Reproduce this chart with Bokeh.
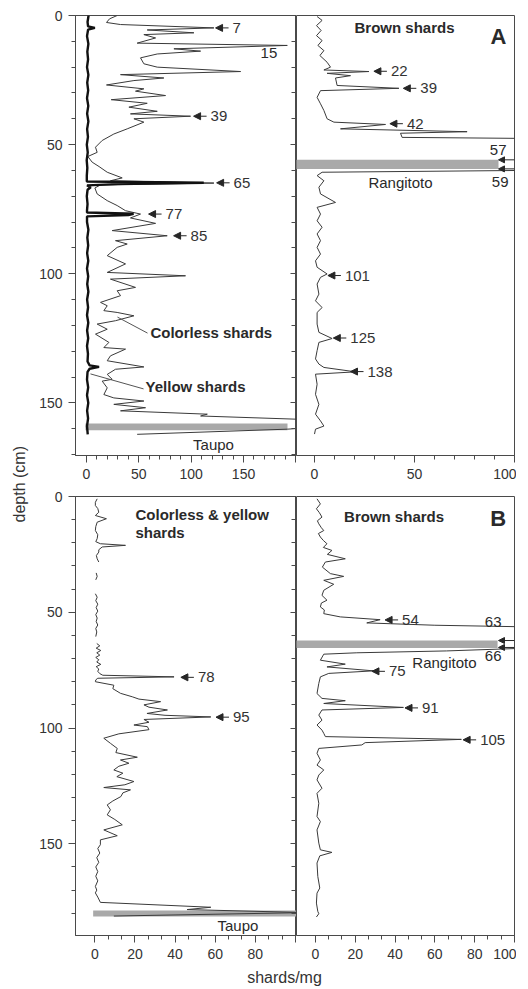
import math
from bokeh.plotting import figure
from bokeh.layouts import row, column
from bokeh.models import Range1d, FixedTicker, LinearAxis, Arrow, NormalHead, ColumnDataSource
from bokeh.core.properties import value
from bokeh.embed import file_html
from bokeh.resources import INLINE

NaN = float("nan")
FONT = "Liberation Sans"
INK = "#262626"
AXC = "#4a4a4a"
BAR = "#a9a9a9"

# ---------------- Panel A : colorless shards (shards/mg vs depth cm) ----------------
a_colorless_depth = [0.0, 1.3, 2.7, 3.5, 4.8, 5.6, 6.7, 7.4, 8.7, 10.7, 11.6, 12.9, 13.8, 14.9, 16.4,
                     18.7, 20.0, 21.7, 22.9, 24.2, 25.2, 26.9, 28.4, 29.3, 31.0, 32.6, 34.0, 35.5, 37.1,
                     38.1, 39.0, 40.0, 41.3, 43.9, 45.9, 48.4, 51.0, 53.0, 54.6, 56.8, 58.5, 60.7, 62.9,
                     64.0, 64.9, 65.6, 66.8, 69.1, 71.7, 73.6, 75.6, 76.9, 78.4, 80.5, 83.3, 85.3, 87.2,
                     88.5, 89.8, 93.0, 96.2, 99.5, 100.8, 102.1, 105.3, 106.6, 108.5, 111.1, 112.4, 114.3,
                     115.0, 116.3, 118.2, 119.5, 121.5, 123.4, 126.6, 128.6, 129.2, 131.8, 133.7, 136.1,
                     137.0, 139.0, 140.9, 141.6, 144.2, 146.8, 148.1, 149.3, 150.6, 151.9, 153.1, 154.4,
                     155.1, 156.4, 158.3, 160.2, 162.2]
a_colorless = [29.3, 22.0, 19.1, 32.5, 121.7, 58.0, 102.6, 54.8, 66.0, 48.4, 191.8, 83.5, 109.0, 67.6, 51.6,
               54.8, 67.6, 147.2, 32.5, 73.9, 45.3, 19.1, 54.8, 46.8, 75.5, 23.6, 58.0, 40.5, 67.6,
               42.0, 99.4, 45.3, 54.8, 38.9, 26.1, 15.0, 8.6, 10.2, 1.3, 5.4, 12.0, 19.8, 34.1,
               22.9, 121.7, 13.4, 8.0, 10.2, 19.8, 29.3, 37.3, 51.6, 42.0, 66.0, 24.5, 77.1, 27.7,
               38.9, 29.3, 19.8, 37.3, 19.8, 94.6, 22.9, 46.8, 29.3, 32.5, 13.4, 19.8, 16.6,
               29.3, 45.3, 27.7, 10.2, 19.8, 8.6, 21.4, 16.6, 37.3, 22.9, 19.8, 54.8,
               27.7, 19.8, 24.5, 15.0, 19.8, 16.6, 26.1, 54.8, 26.1, 56.4, 32.5, 115.4,
               109.0, 205.0, 260.0, 192.0, 48.4]

# ---------------- Panel A : yellow shards ----------------
a_yellow_depth = [0, 2.5, 4.2, 4.8, 5.5, 8, 11, 14, 17, 20, 23, 26, 29, 32, 35, 38, 41, 44, 47, 50, 53,
                  56, 59, 62, 64.3, 64.8, 65.3, 65.8, 66.5, 67.5, 70, 73, 75.5, 76.3, 76.8, 77.3, 77.8,
                  80, 83, 86, 89, 92, 95, 98, 101, 104, 107, 110, 113, 116, 119, 122, 125, 128, 131,
                  134, 135.5, 136.1, 136.8, 138, 141, 144, 147, 150, 153, 156, 159, 162.2]
a_yellow = [2.0, 1.0, 1.5, 8.0, 1.5, 0.5, 1.8, 0.8, 1.5, 0.5, 1.8, 0.7, 1.6, 0.5, 1.7, 0.6, 1.8, 0.6,
            1.4, 0.3, 1.2, 0.2, 0.8, 0.3, 0.3, 112.0, 30.0, 0.5, 4.0, 1.0, 0.3, 1.0, 0.5, 0.5, 45.0,
            40.0, 0.5, 0.5, 1.8, 0.8, 1.6, 0.6, 1.7, 0.5, 1.6, 0.7, 1.8, 0.6, 1.5, 0.5, 1.7, 0.6,
            1.6, 0.5, 1.4, 1.0, 3.0, 12.0, 3.0, 1.0, 0.5, 1.6, 0.5, 1.7, 0.6, 1.5, 0.5, 1.2]

# ---------------- Panel A : brown shards ----------------
a_brown_depth = [0.4, 1.9, 3.9, 5.8, 7.8, 9.7, 11.6, 13.6, 15.5, 18.1, 20.0, 21.1, 21.7, 22.4, 23.3, 24.2,
                 27.1, 28.2, 29.1, 31.7, 34.2, 36.8, 40.0, 41.3, 42.2, 43.9, 45.0, 45.6, 47.2, 47.6,
                 60.0, 60.7, 62.0, 64.0, 66.5, 69.1, 72.4, 74.3, 76.9, 79.5, 82.0, 84.6, 87.2, 89.8,
                 92.4, 95.0, 97.5, 100.1, 101.4, 104.0, 107.9, 110.5, 113.1, 115.0, 119.5, 122.7, 125.1,
                 126.6, 129.8, 133.0, 135.0, 136.3, 138.0, 138.9, 142.8, 146.7, 150.6, 154.4, 157.0,
                 159.0, 160.2, 162.1]
a_brown = [1.3, 3.8, 1.0, 3.3, 1.0, 3.8, 1.7, 4.7, 2.7, 6.3, 8.0, 4.7, 27.2, 6.3, 18.0, 10.5,
           11.3, 42.2, 3.0, 1.3, 3.0, 4.7, 6.3, 9.7, 35.5, 13.0, 76.3, 43.0, 43.8, 104.0,
           104.0, 3.8, 1.3, 4.7, 2.2, 3.0, 10.5, 1.3, 3.0, 1.3, 3.8, 1.3, 3.0, 1.3,
           3.0, 0.5, 1.3, 6.3, 3.0, 1.3, 2.2, 0.5, 3.8, 1.3, 1.3, 2.2, 8.8,
           2.2, 1.3, 0.5, 2.2, 4.7, 20.5, 0.5, 1.3, 0.5, 2.2, 0.5, 3.0,
           4.7, 0.5, 0.0]

# ---------------- Panel B : colorless & yellow shards ----------------
b_cy_depth = [1.0, 2.5, 3.9, 5.2, 6.8, 8.2, 9.6, 11.1, 13.0, 14.7, 16.5, 18.2, 19.5, 20.4, 21.1, 21.8,
              23.0, 24.0, 25.5, 26.9, 28.3, NaN, 33.0, 34.5, 36.0, NaN, 42.0, 43.5, 45.0, 46.5, 48.0,
              49.5, 51.0, 52.5, 54.0, 55.5, 57.0, 58.5, 60.5, NaN, 63.5, 64.5, 65.5, 66.5, 67.5, 68.5,
              69.5, 70.5, 71.5, 72.5, 73.5, 74.5, 75.5, 76.5, 77.2, 77.9, 78.5, 79.2, 80.0, 81.5, 83.0,
              85.0, 86.5, 87.5, 88.6, 90.0, 91.0, 92.2, 93.7, 94.5, 95.2, 96.3, 97.5, 98.7, 99.4,
              100.7, 102.5, 104.4, 106.6, 108.8, 110.6, 112.6, 113.8, 115.2, 116.5, 118.1, 119.5,
              121.0, 123.1, 124.5, 125.7, 126.7, 128.0, 129.6, 131.5, 133.2, 135.3, 137.5, 139.5,
              141.8, 144.0, 146.5, 148.3, 150.4, 152.0, 154.0, 156.0, 158.0, 160.0, 162.0, 164.0,
              166.0, 168.4, 170.0, 171.2, 173.0, 175.3, 177.4, 178.4, 179.7, 181.2]
b_cy = [1.2, 0.3, 0.3, 1.5, 2.0, 0.3, 5.8, 1.2, 0.5, 0.3, 1.5, 1.2, 0.5, 2.8, 15.3, 3.7,
        2.0, 2.0, 0.8, 1.2, 2.0, NaN, 0.7, 1.2, 0.5, NaN, 0.3, 1.2, 0.5, 1.5, 0.7,
        1.5, 0.5, 1.2, 0.7, 1.5, 0.5, 1.0, 0.5, NaN, 1.0, 2.5, 0.7, 3.0, 1.0, 2.5,
        0.5, 2.0, 1.0, 3.0, 0.7, 2.0, 1.5, 2.5, 4.0, 39.5, 1.5, 0.5, 0.3, 9.5, 9.0,
        12.8, 18.7, 22.0, 32.8, 24.5, 27.0, 36.2, 26.0, 35.0, 57.8, 24.5, 27.0, 19.5, 26.2,
        27.0, 12.0, 4.5, 7.8, 11.2, 10.5, 21.2, 12.8, 17.0, 12.0, 9.5, 14.0,
        11.0, 19.5, 15.0, 4.5, 17.8, 14.0, 13.0, 9.0, 6.2, 7.8, 6.2, 10.0,
        13.7, 4.5, 11.2, 2.8, 2.8, 1.5, 2.5, 1.0, 2.0, 0.5, 1.5, 0.5,
        1.5, 0.3, 1.0, 0.3, 1.5, 2.8, 57.8, 46.0, 105.0, 9.5]

# ---------------- Panel B : brown shards ----------------
b_brown_depth = [1.0, 3.2, 5.3, 7.0, 8.9, 10.5, 11.8, 13.5, 14.7, 16.0, 17.5, 19.0, 20.4, 22.0, 23.3,
                 25.0, 26.9, 28.3, 30.5, 33.3, 34.5, 36.2, 37.9, 40.5, 42.7, 44.8, 46.0, 47.7, 49.0,
                 50.6, 52.0, 53.2, 54.6, 55.6, 56.3, 65.5, 66.7, 67.5, 68.1, 70.7, 72.4, 73.6, 75.3,
                 76.4, 77.9, 80.7, 85.1, 87.2, 88.2, 89.4, 91.1, 92.2, 94.4, 96.6, 98.7, 100.9, 102.3,
                 103.7, 104.9, 106.3, 107.3, 108.8, 110.9, 113.8, 116.0, 118.1, 120.3, 122.4, 126.0,
                 128.2, 132.5, 138.2, 140.4, 144.0, 149.7, 152.6, 153.7, 155.2, 158.3, 164.1, 169.1,
                 171.3, 175.6, 179.2, 180.2, 181.6]
b_brown = [0.8, 2.5, 0.5, 2.0, 3.3, 1.0, 1.7, 3.0, 4.2, 1.5, 2.5, 4.0, 5.8, 4.0, 8.3,
           6.0, 15.0, 5.0, 3.5, 7.5, 14.2, 4.2, 9.2, 4.2, 3.3, 5.8, 3.0, 2.5, 4.5,
           4.2, 12.5, 32.5, 25.8, 60.0, 106.0, 106.0, 65.8, 20.8, 4.2, 2.5, 15.0, 5.8, 29.2,
           6.7, 2.5, 1.7, 0.8, 3.3, 15.0, 4.2, 44.2, 3.3, 1.7, 3.3, 0.8, 3.3, 4.2,
           5.0, 73.3, 25.0, 23.3, 1.7, 0.8, 2.5, 0.8, 4.2, 1.7, 0.8, 3.3,
           0.8, 1.7, 0.8, 2.5, 0.8, 1.7, 2.5, 8.3, 2.2, 0.8, 1.2, 2.2,
           0.8, 0.5, 1.2, 1.7, 0.5]

# ---------------- tephra layers (depth top, depth bottom, value extent) ----------------
a_taupo = dict(top=[158.0], bottom=[160.6], left=[-1.0], right=[192.0])
a_rangitoto = dict(top=[55.9], bottom=[59.4], left=[-10.0], right=[92.0])
b_taupo = dict(top=[178.8], bottom=[181.4], left=[-0.8], right=[101.0])
b_rangitoto = dict(top=[62.2], bottom=[65.4], left=[-10.0], right=[91.5])

# ---------------- annotation labels ----------------
a_left_marks = ["7", "39", "65", "77", "85"]
a_left_mark_depth = [4.8, 39.0, 64.8, 76.9, 85.3]
a_left_mark_val = [123.3, 102.3, 124.3, 59.3, 83.2]
a_right_marks = ["22", "39", "42", "101", "125", "138"]
a_right_mark_depth = [21.6, 28.2, 41.9, 100.7, 124.9, 137.9]
a_right_mark_val = [29.7, 44.4, 37.7, 6.7, 9.4, 18.0]
a_layer_edges = [55.9, 59.4]
b_left_marks = ["78", "95"]
b_left_mark_depth = [78.1, 95.3]
b_left_mark_val = [42.9, 60.4]
b_right_marks = ["54", "75", "91", "105"]
b_right_mark_depth = [53.3, 75.5, 91.3, 105.1]
b_right_mark_val = [35.0, 28.4, 45.0, 74.2]
b_layer_edges = [62.2, 65.2]

# ---------------- ticks ----------------
depth_ticks = [0, 50, 100, 150]
a_depth_minor = list(range(0, 171, 10))
b_depth_minor = list(range(0, 190, 10))
a_left_xticks = [0, 50, 100, 150, 200]
a_left_xminor = list(range(0, 201, 10))
a_right_xticks = [0, 50, 100]
a_right_xminor = list(range(0, 101, 10))
b_xticks = [0, 20, 40, 60, 80, 100]
b_xminor = [i * 20.0 / 3.0 for i in range(16)]

# ---------------- ranges ----------------
A_DEPTH = (170.4, 0.0)
B_DEPTH = (189.6, 0.0)
A_LEFT_X = (-10.5, 200.6)
A_RIGHT_X = (-9.0, 100.0)
B_LEFT_X = (-9.6, 100.5)
B_RIGHT_X = (-9.5, 100.0)

FW_L, FW_R = 221, 218
FH_A, FH_B = 440, 439


def style_axis(ax, ticks, minor, overrides=None):
    ax.ticker = FixedTicker(ticks=ticks, minor_ticks=minor)
    ax.axis_line_color = AXC
    ax.major_tick_line_color = AXC
    ax.minor_tick_line_color = AXC
    ax.major_tick_out = 7
    ax.major_tick_in = 0
    ax.minor_tick_out = 4
    ax.minor_tick_in = 0
    ax.major_label_text_font = FONT
    ax.major_label_text_font_size = "14px"
    ax.major_label_text_color = "#333333"
    ax.major_label_standoff = 6
    if overrides:
        ax.major_label_overrides = overrides


def panel(frame_w, frame_h, xr, yr, left, right, top, bottom, yaxis):
    p = figure(frame_width=frame_w, frame_height=frame_h,
               x_range=Range1d(*xr), y_range=Range1d(*yr),
               min_border_left=left, min_border_right=right,
               min_border_top=top, min_border_bottom=bottom,
               x_axis_location="below", y_axis_location="left" if yaxis else None,
               output_backend="svg", toolbar_location=None)
    p.grid.visible = False
    p.outline_line_color = AXC
    p.outline_line_width = 1
    p.background_fill_color = "white"
    p.border_fill_color = "white"
    return p


def divider_axis(p, minor):
    rax = LinearAxis(ticker=FixedTicker(ticks=depth_ticks, minor_ticks=minor))
    rax.axis_line_color = AXC
    rax.major_tick_line_color = AXC
    rax.minor_tick_line_color = AXC
    rax.major_tick_in = 6
    rax.major_tick_out = 0
    rax.minor_tick_in = 5
    rax.minor_tick_out = 0
    rax.major_label_text_font_size = "0px"
    rax.major_label_standoff = 0
    rax.major_label_overrides = {t: "" for t in depth_ticks}
    p.add_layout(rax, "right")


def marks(p, tips, depths, texts, xr, frame_w):
    ppu = frame_w / (xr[1] - xr[0])
    L = 13.0 / ppu
    src = ColumnDataSource(dict(x0=[t + L for t in tips], x1=tips, y=depths))
    p.add_layout(Arrow(source=src, x_start="x0", y_start="y", x_end="x1", y_end="y",
                       end=NormalHead(size=7, fill_color=INK, line_color=INK, line_width=1),
                       line_color=INK, line_width=1))
    p.text(x=tips, y=depths, text=texts, x_offset=17, text_font=value(FONT),
           text_font_size=value("15px"), text_baseline="middle", text_align="left",
           text_color="#333333")


def edge_marks(p, depths, xr, frame_w):
    ppu = frame_w / (xr[1] - xr[0])
    tip = xr[1] - 16.0 / ppu
    src = ColumnDataSource(dict(x0=[xr[1]] * len(depths), x1=[tip] * len(depths), y=depths))
    p.add_layout(Arrow(source=src, x_start="x0", y_start="y", x_end="x1", y_end="y",
                       end=NormalHead(size=6, fill_color=INK, line_color=INK, line_width=1),
                       line_color=INK, line_width=1))


def words(p, x, y, t, size="15px", bold=False, align="left"):
    p.text(x=x, y=y, text=t, text_font=value(FONT), text_font_size=value(size),
           text_font_style="bold" if bold else "normal", text_baseline="middle",
           text_align=align, text_color="#2a2a2a")


# ===================== Panel A, left =====================
a1 = panel(FW_L, FH_A, A_LEFT_X, A_DEPTH, 45, 0, 15, 35, True)
style_axis(a1.xaxis[0], a_left_xticks, a_left_xminor, {200: ""})
style_axis(a1.yaxis[0], depth_ticks, a_depth_minor)
divider_axis(a1, a_depth_minor)
a1.quad(source=ColumnDataSource(a_taupo), top="top", bottom="bottom", left="left", right="right",
        fill_color=BAR, line_color=None)
a1.line(a_colorless, a_colorless_depth, line_color="#3a3a3a", line_width=1)
a1.line(a_yellow, a_yellow_depth, line_color="#111111", line_width=2.4)
marks(a1, a_left_mark_val, a_left_mark_depth, a_left_marks, A_LEFT_X, FW_L)
words(a1, [166.3], [14.7], ["15"])
a1.segment(x0=[29.6, 3.8], y0=[116.8, 138.8], x1=[58.3, 54.5], y1=[123.0, 144.6],
           line_color="#555555", line_width=1)
words(a1, [61.1], [122.7], ["Colorless shards"], bold=True)
words(a1, [56.4], [143.6], ["Yellow shards"], bold=True)
words(a1, [121.3], [166.2], ["Taupo"], align="center")

# ===================== Panel A, right =====================
a2 = panel(FW_R, FH_A, A_RIGHT_X, A_DEPTH, 0, 2, 15, 35, False)
style_axis(a2.xaxis[0], a_right_xticks, a_right_xminor)
a2.quad(source=ColumnDataSource(a_rangitoto), top="top", bottom="bottom", left="left", right="right",
        fill_color=BAR, line_color=None)
a2.line(a_brown, a_brown_depth, line_color="#3a3a3a", line_width=1)
marks(a2, a_right_mark_val, a_right_mark_depth, a_right_marks, A_RIGHT_X, FW_R)
edge_marks(a2, a_layer_edges, A_RIGHT_X, FW_R)
words(a2, [96.0, 97.0], [52.0, 64.6], ["57", "59"], align="right")
words(a2, [43.0], [64.6], ["Rangitoto"], align="center")
words(a2, [45.0], [4.8], ["Brown shards"], bold=True, align="center")
words(a2, [92.0], [8.0], ["A"], size="22px", bold=True, align="center")

# ===================== Panel B, left =====================
b1 = panel(FW_L, FH_B, B_LEFT_X, B_DEPTH, 45, 0, 6, 30, True)
style_axis(b1.xaxis[0], b_xticks, b_xminor, {100: ""})
style_axis(b1.yaxis[0], depth_ticks, b_depth_minor)
divider_axis(b1, b_depth_minor)
b1.quad(source=ColumnDataSource(b_taupo), top="top", bottom="bottom", left="left", right="right",
        fill_color=BAR, line_color=None)
b1.line(b_cy, b_cy_depth, line_color="#3a3a3a", line_width=1)
marks(b1, b_left_mark_val, b_left_mark_depth, b_left_marks, B_LEFT_X, FW_L)
words(b1, [20.3, 20.3], [7.8, 15.7], ["Colorless & yellow", "shards"], bold=True)
words(b1, [71.3], [185.3], ["Taupo"], align="center")

# ===================== Panel B, right =====================
b2 = panel(FW_R, FH_B, B_RIGHT_X, B_DEPTH, 0, 2, 6, 30, False)
style_axis(b2.xaxis[0], b_xticks, b_xminor)
b2.quad(source=ColumnDataSource(b_rangitoto), top="top", bottom="bottom", left="left", right="right",
        fill_color=BAR, line_color=None)
b2.line(b_brown, b_brown_depth, line_color="#3a3a3a", line_width=1)
marks(b2, b_right_mark_val, b_right_mark_depth, b_right_marks, B_RIGHT_X, FW_R)
edge_marks(b2, b_layer_edges, B_RIGHT_X, FW_R)
words(b2, [93.5, 93.5], [54.3, 69.0], ["63", "66"], align="right")
words(b2, [64.8], [71.6], ["Rangitoto"], align="center")
words(b2, [39.5], [8.6], ["Brown shards"], bold=True, align="center")
words(b2, [91.8], [9.6], ["B"], size="22px", bold=True, align="center")

# ===================== shared axis titles =====================
XLAB_H = 22
TOTAL_H = 490 + 475 + XLAB_H
ylab = figure(width=30, height=TOTAL_H, x_range=Range1d(0, 30), y_range=Range1d(0, TOTAL_H),
              min_border=0, x_axis_location=None, y_axis_location=None,
              output_backend="svg", toolbar_location=None)
ylab.grid.visible = False
ylab.outline_line_color = None
ylab.text(x=[18.5], y=[TOTAL_H - 522], text=["depth (cm)"], angle=math.pi / 2,
          text_font=value(FONT), text_font_size=value("16px"), text_align="left",
          text_baseline="middle", text_color="#333333")

xlab = figure(width=486, height=XLAB_H, x_range=Range1d(0, 486), y_range=Range1d(0, XLAB_H),
              min_border=0, x_axis_location=None, y_axis_location=None,
              output_backend="svg", toolbar_location=None)
xlab.grid.visible = False
xlab.outline_line_color = None
xlab.text(x=[254], y=[10], text=["shards/mg"], text_font=value(FONT), text_font_size=value("16px"),
          text_align="center", text_baseline="middle", text_color="#333333")

layout = row(ylab, column(row(a1, a2), row(b1, b2), xlab))

with open("out.html", "w") as f:
    f.write(file_html(layout, INLINE))
